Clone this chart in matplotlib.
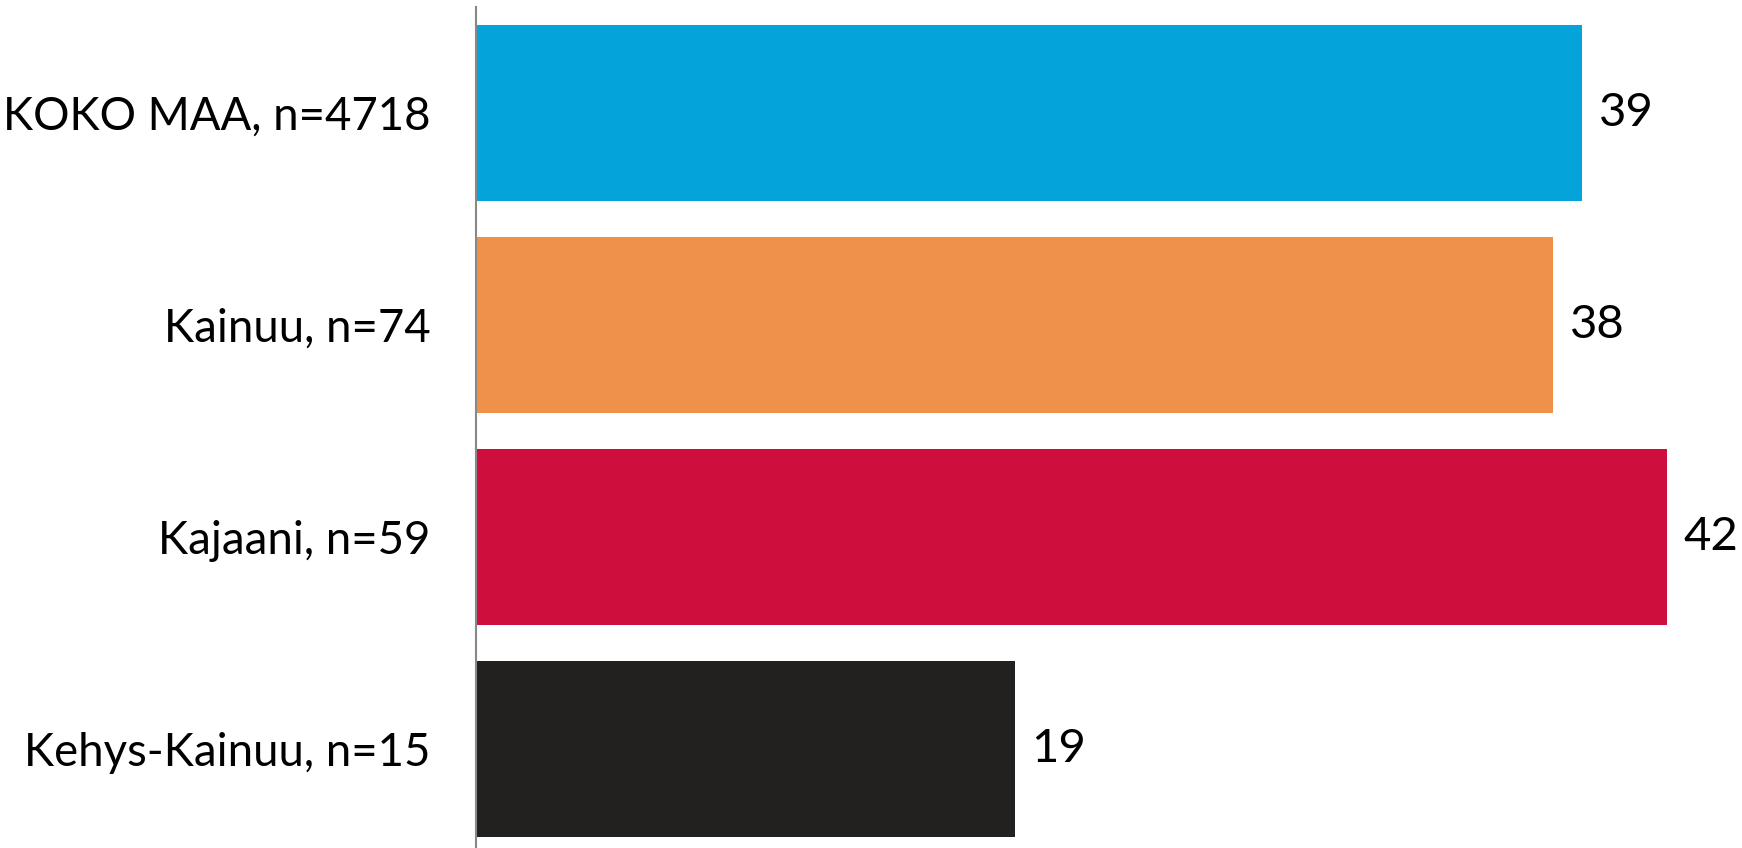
import matplotlib
matplotlib.use("Agg")
import matplotlib.pyplot as plt

labels = ["KOKO MAA, n=4718", "Kainuu, n=74", "Kajaani, n=59", "Kehys-Kainuu, n=15"]
values = [39, 38, 42, 19]
colors = ["#04A4DA", "#F0914B", "#CE0F3D", "#22211F"]

plt.rcParams['font.family'] = ['Lato', 'DejaVu Sans']

fig = plt.figure(figsize=(17.42, 8.48), dpi=100)
ax = fig.add_axes([476 / 1742, -7 / 848, 1 - 476 / 1742, 1.0])

pos = list(range(len(values)))
ax.barh(pos, values, height=0.833, color=colors)

# value labels just right of the bars
for p, v in zip(pos, values):
    ax.text(v + 0.6, p, str(v), va='center', ha='left', fontsize=34)

ax.set_yticks(pos)
ax.set_yticklabels(labels, fontsize=32.8)
ax.tick_params(axis='y', length=0, pad=33)
ax.set_xticks([])
ax.set_xlim(0, 44.66)
ax.set_ylim(3.5, -0.5)

for s in ['top', 'right', 'bottom']:
    ax.spines[s].set_visible(False)
ax.spines['left'].set_color('#888888')
ax.spines['left'].set_linewidth(1.5)

fig.savefig("out.png", dpi=100)
